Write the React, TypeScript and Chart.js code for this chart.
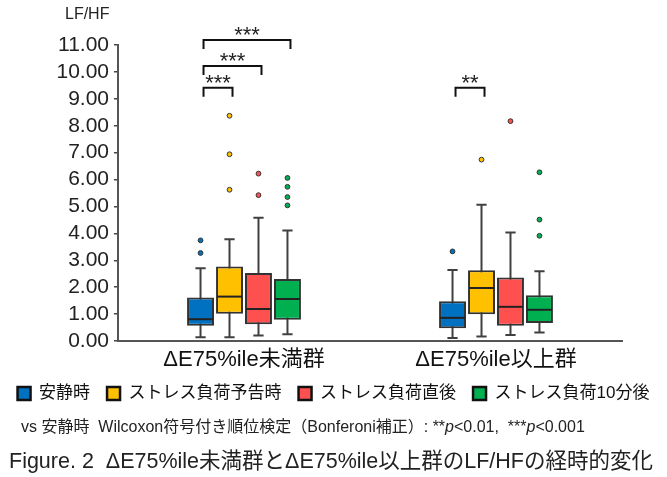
import React, { useEffect, useRef } from "react";
import { Chart, registerables } from "chart.js";

Chart.register(...registerables);

const FONT = "'Liberation Sans', Arial, 'Noto Sans CJK JP', sans-serif";

const categories = ["ΔE75%ile未満群", "ΔE75%ile以上群"];
const seriesNames = ["安静時", "ストレス負荷予告時", "ストレス負荷直後", "ストレス負荷10分後"];
const seriesColors = ["#0070C0", "#FFC000", "#FF5050", "#00B050"];

// [series][category]
const whiskerLow = [
  [0.14, 0.11],
  [0.14, 0.17],
  [0.2, 0.22],
  [0.25, 0.32],
];
const q1 = [
  [0.57, 0.47],
  [1.01, 0.99],
  [0.62, 0.57],
  [0.79, 0.67],
];
const median = [
  [0.81, 0.86],
  [1.65, 1.97],
  [1.19, 1.27],
  [1.56, 1.16],
];
const q3 = [
  [1.62, 1.48],
  [2.77, 2.63],
  [2.53, 2.36],
  [2.3, 1.7],
];
const whiskerHigh = [
  [2.7, 2.64],
  [3.78, 5.06],
  [4.58, 4.03],
  [4.11, 2.59],
];
const outliers = [
  [[3.27, 3.74], [3.33]],
  [[5.62, 6.94, 8.37], [6.74]],
  [[5.42, 6.22], [8.17]],
  [[5.04, 5.35, 5.73, 6.06], [3.91, 4.51, 6.27]],
];

const yTickLabels = ["0.00", "1.00", "2.00", "3.00", "4.00", "5.00", "6.00", "7.00", "8.00", "9.00", "10.00", "11.00"];

const bracketCategory = [0, 0, 0, 1];
const bracketFrom = [0, 0, 0, 0];
const bracketTo = [1, 2, 3, 1];
const bracketLevel = [9.41, 10.22, 11.19, 9.41];
const bracketLabel = ["***", "***", "***", "**"];

const boxPlugin = {
  id: "boxExtras",
  beforeDatasetsDraw(chart: any) {
    const { ctx } = chart;
    const ys = chart.scales.y;
    ctx.save();
    ctx.strokeStyle = "#404040";
    ctx.lineWidth = 2;
    seriesNames.forEach((_, s) => {
      chart.getDatasetMeta(s).data.forEach((bar: any, c: number) => {
        const x = bar.x;
        const lo = ys.getPixelForValue(whiskerLow[s][c]);
        const hi = ys.getPixelForValue(whiskerHigh[s][c]);
        const half = bar.width * 0.19;
        ctx.beginPath();
        ctx.moveTo(x, lo);
        ctx.lineTo(x, hi);
        ctx.moveTo(x - half, lo);
        ctx.lineTo(x + half, lo);
        ctx.moveTo(x - half, hi);
        ctx.lineTo(x + half, hi);
        ctx.stroke();
      });
    });
    ctx.restore();
  },
  afterDatasetsDraw(chart: any) {
    const { ctx } = chart;
    const ys = chart.scales.y;
    ctx.save();
    // medians
    ctx.strokeStyle = "#222";
    ctx.lineWidth = 2;
    seriesNames.forEach((_, s) => {
      chart.getDatasetMeta(s).data.forEach((bar: any, c: number) => {
        const m = ys.getPixelForValue(median[s][c]);
        ctx.beginPath();
        ctx.moveTo(bar.x - bar.width / 2 + 1, m);
        ctx.lineTo(bar.x + bar.width / 2 - 1, m);
        ctx.stroke();
      });
    });
    // outliers
    ctx.lineWidth = 1;
    ctx.strokeStyle = "#333";
    seriesNames.forEach((_, s) => {
      chart.getDatasetMeta(s).data.forEach((bar: any, c: number) => {
        outliers[s][c].forEach((v) => {
          const py = ys.getPixelForValue(v);
          ctx.beginPath();
          ctx.arc(bar.x, py, 2.4, 0, Math.PI * 2);
          ctx.fillStyle = seriesColors[s];
          ctx.fill();
          ctx.stroke();
        });
      });
    });
    // significance brackets
    ctx.strokeStyle = "#111";
    ctx.lineWidth = 2;
    ctx.fillStyle = "#222";
    ctx.font = `22px ${FONT}`;
    ctx.textAlign = "center";
    ctx.textBaseline = "alphabetic";
    bracketLevel.forEach((lvl, i) => {
      const c = bracketCategory[i];
      const x1 = chart.getDatasetMeta(bracketFrom[i]).data[c].x + 3;
      const x2 = chart.getDatasetMeta(bracketTo[i]).data[c].x + 3;
      const top = ys.getPixelForValue(lvl);
      ctx.beginPath();
      ctx.moveTo(x1, top + 9);
      ctx.lineTo(x1, top);
      ctx.lineTo(x2, top);
      ctx.lineTo(x2, top + 9);
      ctx.stroke();
      ctx.fillText(bracketLabel[i], (x1 + x2) / 2, top + 2);
    });
    ctx.restore();
  },
};

export default function App() {
  const ref = useRef<HTMLCanvasElement>(null);
  useEffect(() => {
    const canvas = ref.current!;
    const chart = new Chart(canvas, {
      type: "bar",
      data: {
        labels: categories,
        datasets: seriesNames.map((name, s) => ({
          label: name,
          data: categories.map((_, c) => [q1[s][c], q3[s][c]]),
          backgroundColor: seriesColors[s],
          borderColor: "#333",
          borderWidth: 2,
          borderSkipped: false,
          categoryPercentage: 0.46,
          barPercentage: 0.93,
        })),
      } as any,
      options: {
        responsive: false,
        animation: false,
        layout: { padding: { top: 45, right: 0, left: 0, bottom: 65 } },
        scales: {
          x: {
            grid: { display: false, drawTicks: false },
            border: { display: true, color: "#555", width: 2 },
            ticks: { font: { family: FONT, size: 22 }, color: "#111", padding: 6 },
            afterFit: (s: any) => {
              s.height = 27;
            },
          },
          y: {
            min: 0,
            max: 11,
            grid: { display: true, drawOnChartArea: false, drawTicks: true, tickLength: 4, color: "#444", lineWidth: 1.5 },
            border: { display: true, color: "#555", width: 2 },
            ticks: {
              stepSize: 1,
              autoSkip: false,
              padding: 5,
              font: { family: FONT, size: 21 },
              color: "#222",
              callback: (v: any) => yTickLabels[Math.round(Number(v))],
            },
            afterFit: (s: any) => {
              s.width = 118;
            },
          },
          yRight: {
            position: "right",
            display: true,
            grid: { display: false },
            border: { display: false },
            ticks: { display: false },
            afterFit: (s: any) => {
              s.width = 45;
            },
          },
        },
        plugins: {
          legend: {
            position: "bottom",
            labels: {
              font: { family: FONT, size: 17 },
              color: "#111",
              boxWidth: 13,
              boxHeight: 13,
              padding: 17,
              generateLabels: (ch: any) =>
                (Chart.defaults.plugins.legend.labels as any).generateLabels(ch).map((l: any) => ({
                  ...l,
                  strokeStyle: "#111",
                  lineWidth: 2.5,
                })),
            },
          },
          tooltip: { enabled: false },
        },
      } as any,
      plugins: [boxPlugin],
    });
    return () => chart.destroy();
  }, []);

  return (
    <div style={{ position: "fixed", left: 0, top: 0, width: 667, height: 477, background: "#fff", overflow: "hidden" }}>
      <canvas ref={ref} width={667} height={477} style={{ position: "absolute", left: 0, top: 0 }} />
      <div style={{ position: "absolute", left: 65, top: 5, font: `16px ${FONT}`, lineHeight: "18px", color: "#222" }}>
        LF/HF
      </div>
      <div
        style={{
          position: "absolute",
          left: 21,
          top: 417,
          font: `16px ${FONT}`,
          lineHeight: "19px",
          color: "#222",
          whiteSpace: "pre",
        }}
      >
        {"vs 安静時  Wilcoxon符号付き順位検定（Bonferoni補正）: **"}
        <i>p</i>
        {"<0.01,  ***"}
        <i>p</i>
        {"<0.001"}
      </div>
      <div
        style={{
          position: "absolute",
          left: 9,
          top: 448,
          font: `21.5px ${FONT}`,
          lineHeight: "26px",
          color: "#222",
          whiteSpace: "pre",
        }}
      >
        {"Figure. 2  ΔE75%ile未満群とΔE75%ile以上群のLF/HFの経時的変化"}
      </div>
    </div>
  );
}
